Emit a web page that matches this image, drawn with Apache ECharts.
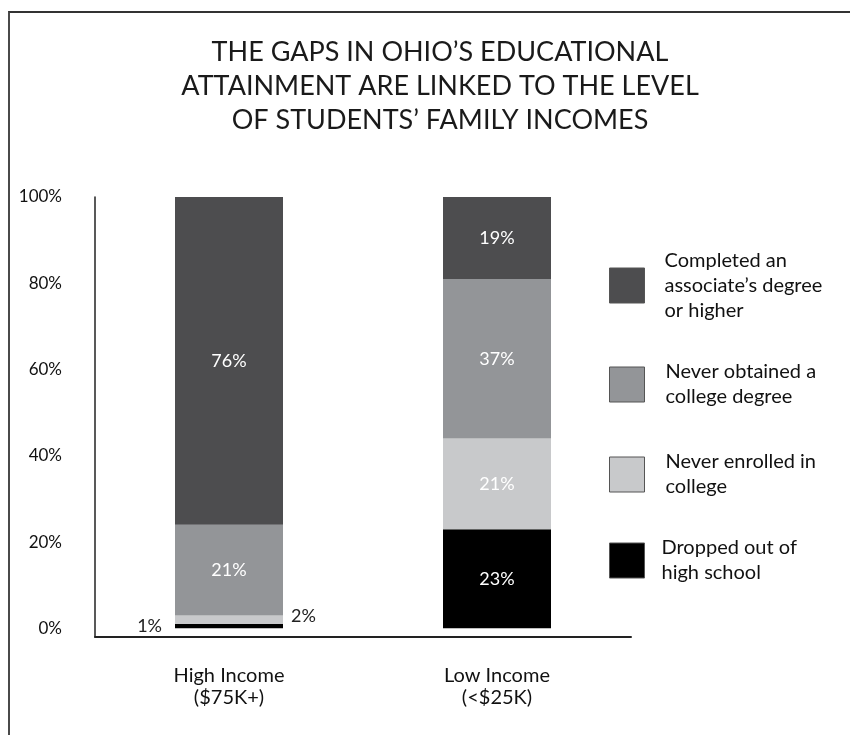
<!DOCTYPE html>
<html>
<head>
<meta charset="utf-8">
<script src="https://cdn.jsdelivr.net/npm/echarts@6/dist/echarts.min.js"></script>
<style>
html,body{margin:0;padding:0;background:#fff;}
#wrap{position:relative;width:850px;height:735px;overflow:hidden;}
#chart{position:absolute;left:0;top:0;width:850px;height:735px;}
#frame{position:absolute;left:8px;top:11px;width:900px;height:800px;border-top:2px solid #333;border-left:2px solid #4a4a4a;pointer-events:none;}
</style>
</head>
<body>
<div id="wrap"><div id="chart"></div><div id="frame"></div></div>
<script>
var categories = ['High Income\n($75K+)', 'Low Income\n(<$25K)'];
var seriesNames = ['Dropped out of high school', 'Never enrolled in college', 'Never obtained a college degree', 'Completed an associate\u2019s degree or higher'];
var legendLabels = ['Dropped out of\nhigh school', 'Never enrolled in\ncollege', 'Never obtained a\ncollege degree', 'Completed an\nassociate\u2019s degree\nor higher'];
var dropped = [1, 23];
var neverEnrolled = [2, 21];
var neverObtained = [21, 37];
var completed = [76, 19];
var yTicks = [0, 20, 40, 60, 80, 100];
var colors = ['#000000', '#c8c9cb', '#939598', '#4d4d4f'];

var FONT = 'Lato, "Open Sans", sans-serif';
var chart = echarts.init(document.getElementById('chart'));

function inLabel() {
  return {show: true, position: 'inside', color: '#ffffff', fontSize: 18, fontFamily: FONT, formatter: '{c}%'};
}

var droppedData = dropped.map(function (v, i) {
  if (i === 0) return {value: v, label: {show: true, position: 'left', distance: 13, color: '#222', fontSize: 18, fontFamily: FONT, formatter: '{c}%'}};
  return {value: v};
});
var enrolledData = neverEnrolled.map(function (v, i) {
  if (i === 0) return {value: v, label: {show: true, position: 'right', distance: 8, offset: [0, -4], color: '#222', fontSize: 18, fontFamily: FONT, formatter: '{c}%'}};
  return {value: v};
});

var seriesData = [droppedData, enrolledData, neverObtained, completed];

var series = seriesData.map(function (d, k) {
  return {
    name: seriesNames[k],
    type: 'bar',
    stack: 'total',
    barWidth: 108,
    data: d,
    itemStyle: {color: colors[k]},
    label: inLabel(),
    emphasis: {disabled: true}
  };
});

var legendTops = [541, 455, 365, 266];
var legendPads = [12, 16, 16, 15];
var legends = seriesNames.map(function (n, k) {
  var lines = legendLabels[k].split('\n').length;
  var h = Math.max(35, lines * 25);
  return {
    data: [n],
    orient: 'vertical',
    left: 609,
    top: legendTops[k] + 17.5 - h / 2 + 2,
    padding: 0,
    itemWidth: 35,
    itemHeight: 35,
    icon: 'rect',
    selectedMode: false,
    itemStyle: {borderColor: '#555', borderWidth: 1},
    formatter: function (name) { return legendLabels[seriesNames.indexOf(name)]; },
    textStyle: {fontSize: 20, lineHeight: 25, color: '#111', fontFamily: FONT, padding: [0, 0, 0, legendPads[k]]}
  };
});

chart.setOption({
  animation: false,
  backgroundColor: '#ffffff',
  color: colors,
  title: {
    text: 'THE GAPS IN OHIO\u2019S EDUCATIONAL\nATTAINMENT ARE LINKED TO THE LEVEL\nOF STUDENTS\u2019 FAMILY INCOMES',
    left: 435,
    top: 30,
    textAlign: 'center',
    textStyle: {fontSize: 27, lineHeight: 34, fontWeight: 'normal', color: '#1a1a1a', fontFamily: FONT}
  },
  legend: legends,
  grid: {left: 95, right: 219, top: 197, bottom: 98, containLabel: false},
  xAxis: {
    type: 'category',
    data: categories,
    axisLine: {onZero: false, lineStyle: {color: '#222', width: 2}},
    axisTick: {show: false},
    axisLabel: {fontSize: 20, lineHeight: 22, color: '#111', fontFamily: FONT, margin: 28}
  },
  yAxis: {
    type: 'value',
    min: -2,
    max: 100,
    interval: 2,
    axisLine: {show: true, lineStyle: {color: '#222', width: 1.5}},
    axisTick: {show: false},
    splitLine: {show: false},
    axisLabel: {
      fontSize: 17, color: '#111', fontFamily: FONT, margin: 33,
      formatter: function (v) { return yTicks.indexOf(v) >= 0 ? v + '%' : ''; }
    }
  },
  series: series
});
</script>
</body>
</html>
